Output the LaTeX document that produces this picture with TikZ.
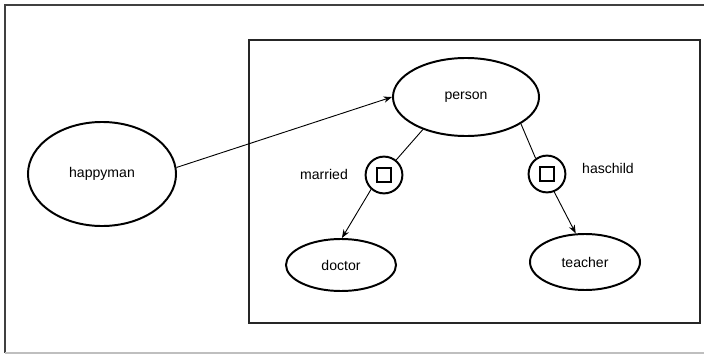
\documentclass[tikz,border=0pt]{standalone}
\usepackage{fontspec}
\setmainfont{Liberation Sans}
\usetikzlibrary{shapes.geometric, arrows.meta}

\tikzset{
    concept/.style={draw, ellipse, line width=1.4pt, inner sep=0pt},
    restrict/.style={draw, circle, line width=1.4pt, minimum size=0.92cm, inner sep=0pt},
    edge/.style={line width=0.65pt},
}

\begin{document}
\begin{tikzpicture}[>={Stealth[length=6pt, width=4.5pt]}, x=0.025cm, y=-0.025cm]
        \useasboundingbox (0, 0) rectangle (704, 355);

        % frames
        \draw[line width=1.6pt, black!75] (704, 5) -- (5, 5) -- (5, 353);
        \draw[line width=0.8pt, black!25] (5, 353) -- (704, 353);
        \draw[line width=1.8pt, black!85] (249, 40) rectangle (700, 323);

        % concepts
        \node[concept, minimum width=3.7cm, minimum height=2.6cm] (happyman) at (102, 174) {happyman};
        \node[concept, minimum width=3.65cm, minimum height=1.95cm] (person) at (466, 97) {person};
        \node[concept, minimum width=2.75cm, minimum height=1.3cm] (doctor) at (341, 265) {doctor};
        \node[concept, minimum width=2.75cm, minimum height=1.4cm] (teacher) at (585, 262) {teacher};

        % restrictions
        \node[restrict] (married) at (384, 175) {};
        \node[draw, line width=1.4pt, minimum size=0.36cm, inner sep=0pt] (marriedbox) at (married) {};
        \node[restrict] (haschild) at (547, 174) {};
        \node[draw, line width=1.4pt, minimum size=0.36cm, inner sep=0pt] (haschildbox) at (haschild) {};

        \node (marriedlabel) at (324, 174) {married};
        \node (haschildlabel) at (608, 168) {haschild};

        % connectors
        \draw[edge, ->] (happyman.5) -- (person.180);
        \draw[edge] (person.217) -- (married.51);
        \draw[edge, ->] (married.228) -- (doctor.88);
        \draw[edge] (person.334) -- (haschild.126);
        \draw[edge, ->] (haschild.292) -- (teacher.108);
    \end{tikzpicture}
\end{document}
